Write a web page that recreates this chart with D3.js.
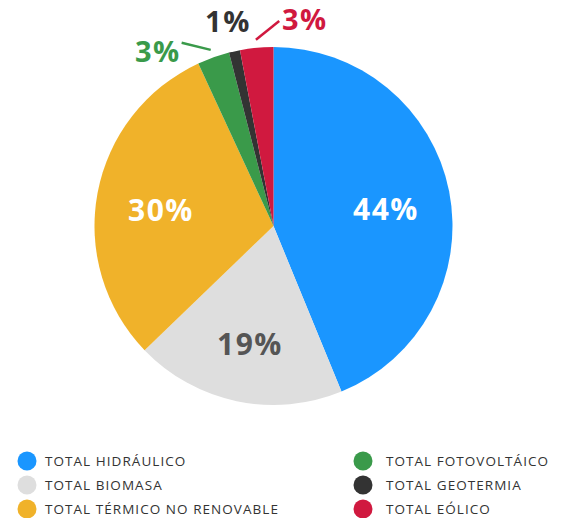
<!DOCTYPE html>
<html>
<head>
<meta charset="utf-8">
<script src="https://cdn.jsdelivr.net/npm/d3@7"></script>
<style>
  body { margin: 0; background: #fff; }
  svg { font-family: "Open Sans", "DejaVu Sans", sans-serif; }
</style>
</head>
<body>
<div id="chart"></div>
<script>
var categories = ["TOTAL HIDRÁULICO", "TOTAL BIOMASA", "TOTAL TÉRMICO NO RENOVABLE",
                  "TOTAL FOTOVOLTÁICO", "TOTAL GEOTERMIA", "TOTAL EÓLICO"];
var values = [43.8, 19.0, 30.3, 2.9, 1.0, 3.0];
var labels = ["44%", "19%", "30%", "3%", "1%", "3%"];
var colors = ["#1a96ff", "#dedede", "#f0b22a", "#3a9a4a", "#333333", "#d0193f"];
var labelColors = ["#ffffff", "#555555", "#ffffff", "#3a9a4a", "#333333", "#d0193f"];

function drawPie(){
    var width = 561, height = 518,
        cx = 273.5, cy = 226, radius = 179;

    var svg = d3.select("#chart")
        .append("svg")
        .attr("width", width)
        .attr("height", height);

    var g = svg.append("g")
        .attr("transform", "translate(" + cx + "," + cy + ")");

    var data = categories.map(function(c, i){ return {name: c, value: values[i], i: i}; });

    var pie = d3.pie()
        .value(function(d){ return d.value; })
        .sort(null);
    var arcs = pie(data);

    var arc = d3.arc().innerRadius(0).outerRadius(radius);

    g.selectAll("path")
        .data(arcs)
        .enter()
        .append("path")
        .attr("d", arc)
        .attr("fill", function(d){ return colors[d.data.i]; });

    // big slices: label inside
    var inner = d3.arc().innerRadius(radius * 0.64).outerRadius(radius * 0.64);
    var big = arcs.filter(function(d){ return d.data.value >= 5; });
    var small = arcs.filter(function(d){ return d.data.value < 5; });

    g.selectAll("text.inner")
        .data(big)
        .enter()
        .append("text")
        .attr("class", "inner")
        .attr("transform", function(d){ return "translate(" + inner.centroid(d) + ")"; })
        .attr("text-anchor", "middle")
        .attr("dy", "0.55em")
        .style("font-size", "30px")
        .style("font-weight", "bold")
        .style("letter-spacing", "1.5px")
        .attr("fill", function(d){ return labelColors[d.data.i]; })
        .text(function(d){ return labels[d.data.i]; });

    // small slices: spread labels outside, lines for the shifted ones
    var mid = (small.length - 1) / 2;
    var step = 14 * Math.PI / 180;
    function polar(a, r){ return [Math.sin(a) * r, -Math.cos(a) * r]; }

    small.forEach(function(d, k){
        var m = (d.startAngle + d.endAngle) / 2;
        var shift = (k - mid) * step;
        var p = polar(m + shift, radius + 30);
        if (shift !== 0) {
            var a = polar(m, radius + 8), b = polar(m + shift / 2, radius + 26);
            g.append("line")
                .attr("x1", a[0]).attr("y1", a[1])
                .attr("x2", b[0]).attr("y2", b[1])
                .attr("stroke", colors[d.data.i])
                .attr("stroke-width", 2.5);
        }
        g.append("text")
            .attr("x", p[0]).attr("y", p[1])
            .attr("text-anchor", "middle")
            .attr("dy", "0.36em")
            .style("font-size", "29px")
            .style("font-weight", "bold")
            .style("letter-spacing", "1.5px")
            .attr("fill", labelColors[d.data.i])
            .text(labels[d.data.i]);
    });

    // legend, two columns of three
    var colX = [27, 363], textX = [45, 386];
    var legend = svg.append("g").attr("class", "legend");
    var items = legend.selectAll("g")
        .data(data)
        .enter()
        .append("g")
        .attr("transform", function(d, i){
            return "translate(0," + (461 + (i % 3) * 24) + ")";
        });
    items.append("circle")
        .attr("cx", function(d, i){ return colX[Math.floor(i / 3)]; })
        .attr("r", 9.5)
        .attr("fill", function(d){ return colors[d.i]; });
    items.append("text")
        .attr("x", function(d, i){ return textX[Math.floor(i / 3)]; })
        .attr("dy", "0.36em")
        .style("font-size", "13.5px")
        .style("letter-spacing", "1.05px")
        .attr("fill", "#333")
        .text(function(d){ return d.name; });
}

drawPie()
</script>
</body>
</html>
